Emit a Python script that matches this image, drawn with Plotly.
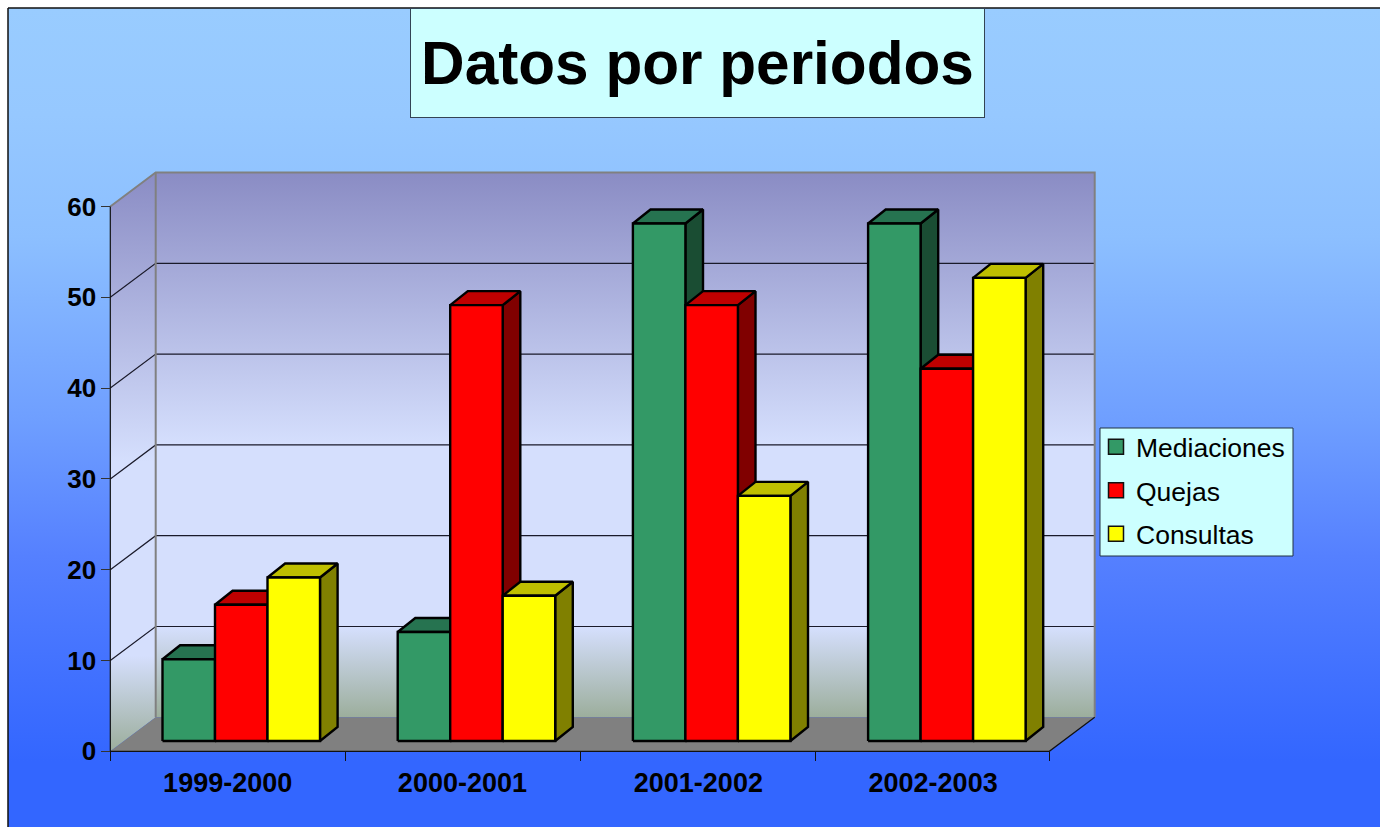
"""Datos por periodos: Excel style 3D column chart, faces drawn as filled polygons on the axes."""
import plotly.graph_objects as go

# data
PERIODS = ["1999-2000", "2000-2001", "2001-2002", "2002-2003"]
MEDIACIONES = [9, 12, 57, 57]
QUEJAS = [15, 48, 48, 41]
CONSULTAS = [18, 16, 27, 51]
Y_TICKS = [0, 10, 20, 30, 40, 50, 60]

FONT = "Liberation Sans, Arial, sans-serif"
W, H = 1380, 827

# axes are stretched over the whole page, these anchor them to the pixels of the original
X0_PX, X4_PX = 110.3, 1049.3
Y0_PX, Y60_PX = 751.3, 206.5
PX_X = (X4_PX - X0_PX) / 4
PX_Y = (Y0_PX - Y60_PX) / 60


def ux(px):
    return (px - X0_PX) / PX_X


def uy(py):
    return (Y0_PX - py) / PX_Y


# 3D look
WALL_DX, WALL_DY = 45.4 / PX_X, 34 / PX_Y
BAR_DX, BAR_DY = 17.6 / PX_X, 14 / PX_Y
BAR_LEFT = 52.2 / PX_X
BAR_W = 52.5 / PX_X
BAR_BASE = 10.3 / PX_Y
GROUP_STEP = 235.2 / PX_X

SERIES = [
    ("Mediaciones", MEDIACIONES, "#339966", "#267350", "#1a4d33"),
    ("Quejas", QUEJAS, "#ff0000", "#bf0000", "#800000"),
    ("Consultas", CONSULTAS, "#ffff00", "#bfbf00", "#808000"),
]

BG_SCALE = [
    [0.0, "#3366ff"], [0.08, "#3366ff"], [0.18, "#4070ff"], [0.33, "#5580ff"],
    [0.50, "#6f9fff"], [0.72, "#8cbfff"], [0.87, "#96c8ff"], [1.0, "#99ccff"],
]
WALL_SCALE = [[0.0, "#9cae9c"], [0.165, "#d5dffd"], [0.5, "#d5dffd"], [1.0, "#8a8cc4"]]

fig = go.Figure()


def poly(xs, ys, fill=None, line="#000000", width=2.4, gradient=None):
    kw = dict(fillgradient=gradient) if gradient else dict(fillcolor=fill)
    fig.add_trace(go.Scatter(
        x=xs + xs[:1], y=ys + ys[:1], mode="lines", fill="toself",
        line=dict(color=line, width=width), showlegend=False, hoverinfo="skip", **kw,
    ))


def seg(xs, ys, color="#222222", width=1):
    fig.add_trace(go.Scatter(
        x=xs, y=ys, mode="lines", line=dict(color=color, width=width),
        showlegend=False, hoverinfo="skip",
    ))


# page background
poly([ux(8), ux(1400), ux(1400), ux(8)], [uy(8), uy(8), uy(840), uy(840)],
     line="#111111", width=1.5,
     gradient=dict(type="vertical", colorscale=BG_SCALE, start=uy(827), stop=uy(8)))

# walls and floor
top = Y_TICKS[-1]
poly([0, WALL_DX, WALL_DX, 0], [top, top + WALL_DY, WALL_DY, 0], line="rgba(0,0,0,0)", width=0,
     gradient=dict(type="vertical", colorscale=WALL_SCALE, start=0, stop=top + WALL_DY))
poly([WALL_DX, 4 + WALL_DX, 4 + WALL_DX, WALL_DX], [WALL_DY, WALL_DY, top + WALL_DY, top + WALL_DY],
     line="rgba(0,0,0,0)", width=0,
     gradient=dict(type="vertical", colorscale=WALL_SCALE, start=WALL_DY, stop=top + WALL_DY))
poly([0, WALL_DX, 4 + WALL_DX, 4], [0, WALL_DY, WALL_DY, 0], fill="#808080", line="rgba(0,0,0,0)", width=0)

# gridlines on the walls
for v in Y_TICKS[1:-1]:
    seg([0, WALL_DX, 4 + WALL_DX], [v, v + WALL_DY, v + WALL_DY], color="#1a1a2a", width=1.2)

# wall edges
seg([0, WALL_DX, 4 + WALL_DX, 4 + WALL_DX], [top, top + WALL_DY, top + WALL_DY, WALL_DY], color="#808080", width=2)
seg([WALL_DX, WALL_DX], [WALL_DY, top + WALL_DY], color="#808080", width=2)

# axis lines
seg([0, 0, 4, 4 + WALL_DX], [top, 0, 0, WALL_DY], color="#111111", width=1.2)

# columns, back to front is left to right within a group
for g in range(len(PERIODS)):
    for s, (name, vals, front, lid, side) in enumerate(SERIES):
        x0 = g * GROUP_STEP + BAR_LEFT + s * BAR_W
        x1 = x0 + BAR_W
        y0 = BAR_BASE
        y1 = BAR_BASE + vals[g]
        poly([x1, x1 + BAR_DX, x1 + BAR_DX, x1], [y0, y0 + BAR_DY, y1 + BAR_DY, y1], fill=side)
        poly([x0, x0 + BAR_DX, x1 + BAR_DX, x1], [y1, y1 + BAR_DY, y1 + BAR_DY, y1], fill=lid)
        poly([x0, x1, x1, x0], [y0, y0, y1, y1], fill=front)

# legend entries
for name, vals, front, lid, side in SERIES:
    fig.add_trace(go.Scatter(
        x=[None], y=[None], mode="markers", name=name, legendgroup=name,
        marker=dict(symbol="square", size=15, color=front, line=dict(color="#111111", width=1.5)),
    ))

fig.update_xaxes(
    range=[ux(0), ux(W)], domain=[0, 1], anchor="free", position=(H - Y0_PX) / H,
    tickvals=[0.5, 1.5, 2.505, 3.505], ticktext=PERIODS,
    ticks="outside", ticklen=7, tickcolor="rgba(0,0,0,0)",
    tickfont=dict(family=FONT, size=27, color="#000000", weight="bold"),
    minor=dict(tickvals=[0, 1.001, 2.004, 3.006, 4], ticks="outside", ticklen=9, tickcolor="#111111", tickwidth=1),
    showgrid=False, zeroline=False, showline=False, fixedrange=True,
)
fig.update_yaxes(
    range=[uy(H), uy(0)], domain=[0, 1], anchor="free", position=X0_PX / W,
    tickvals=Y_TICKS, ticks="outside", ticklen=9, tickcolor="#333333", tickwidth=1,
    tickfont=dict(family=FONT, size=26, color="#000000", weight="bold"),
    showgrid=False, zeroline=False, showline=False, fixedrange=True,
)

fig.add_annotation(
    text="<b>Datos por periodos</b>", xref="paper", yref="paper",
    x=(411 + 984) / 2 / W, y=1 - (8 + 117) / 2 / H, xanchor="center", yanchor="middle",
    width=571, height=106, showarrow=False, align="center", valign="middle",
    bgcolor="#ccffff", bordercolor="#334455", borderwidth=1,
    font=dict(family=FONT, size=60.3, color="#000000"),
)

# legend box, the legend itself is transparent because its group gap pads the top
fig.add_shape(
    type="rect", xref="paper", yref="paper", layer="above",
    x0=1100 / W, x1=1293 / W, y0=1 - 556 / H, y1=1 - 428 / H,
    fillcolor="#ccffff", line=dict(color="#223344", width=1),
)

fig.update_layout(
    width=W, height=H,
    margin=dict(l=0, r=0, t=0, b=0, pad=0),
    paper_bgcolor="#ffffff", plot_bgcolor="rgba(0,0,0,0)",
    showlegend=True,
    legend=dict(
        x=1096 / W, y=1 - 423 / H, xanchor="left", yanchor="top",
        bgcolor="rgba(0,0,0,0)", borderwidth=0,
        font=dict(family=FONT, size=26.5, color="#000000"),
        tracegroupgap=6, itemclick=False, itemdoubleclick=False,
    ),
)

fig.write_html(
    "out.html",
    config=dict(displayModeBar=False),
    post_script="document.body.style.margin='0';document.body.style.overflow='hidden';",
)
